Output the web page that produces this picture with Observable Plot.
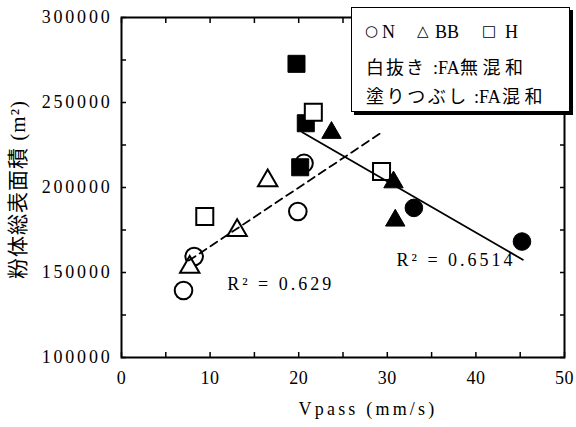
<!DOCTYPE html>
<html><head><meta charset="utf-8">
<script src="https://cdn.jsdelivr.net/npm/d3@7"></script>
<script src="https://cdn.jsdelivr.net/npm/@observablehq/plot@0.6"></script>
<style>
body{margin:0;background:#fff;}
#wrap{position:relative;width:576px;height:427px;overflow:hidden;}
#legend{position:absolute;left:351px;top:7px;width:217px;height:103px;border:1px solid #000;box-shadow:3px 3px 0 #000;background:#fff;font-family:"Liberation Serif","Noto Sans CJK JP",serif;color:#000;}
#legend span{position:absolute;white-space:nowrap;line-height:1;}
</style></head>
<body><div id="wrap"><div id="chart"></div><div id="legend"></div></div>
<script>
// ---- data (Vpass mm/s, 粉体総表面積 m²) ----
// open markers: FA無混和
const nOpenV = [7.0, 8.2, 19.9, 20.6];
const nOpenS = [139400, 159400, 185900, 214200];
const bbOpenV = [7.7, 13.05, 16.5];
const bbOpenS = [153100, 174700, 204000];
const hOpenV = [9.4, 21.65, 29.35];
const hOpenS = [183000, 244300, 209400];
// filled markers: FA混和
const nFillV = [33.0, 45.2];
const nFillS = [188000, 168200];
const bbFillV = [23.7, 30.7, 30.9];
const bbFillS = [232200, 203100, 180600];
const hFillV = [19.75, 20.8, 20.17];
const hFillS = [272750, 237800, 211900];
// trend lines (end points)
const dashV = [7.6, 29.4];
const dashS = [157000, 232500];
const solidV = [20.4, 45.3];
const solidS = [232500, 157500];
// annotations
const r2Text = ["R² = 0.629", "R² = 0.6514"];
const r2V = [11.93, 31.04];
const r2S = [142900, 157060];
// ticks
const xTicks = [0, 10, 20, 30, 40, 50];
const xMinor = [0, 5, 10, 15, 20, 25, 30, 35, 40, 45, 50];
const yTicks = [100000, 150000, 200000, 250000, 300000];
const yMinor = [100000, 125000, 150000, 175000, 200000, 225000, 250000, 275000, 300000];
const xTitle = "Vpass (mm/s)";
const yTitle = "粉体総表面積 (m²)";

const pts = (v, s) => v.map((x, i) => ({v: x, s: s[i]}));
const open = {fill: "white", stroke: "black", strokeWidth: 2};
const solid = {fill: "black", stroke: "black", strokeWidth: 1};
const rC = 8.8, rS = 9.6, rT = 7.2;

const chart = Plot.plot({
  width: 576, height: 427,
  marginLeft: 121, marginRight: 12, marginTop: 17, marginBottom: 70,
  style: {fontFamily: "'Liberation Serif','Noto Sans CJK JP',serif", fontSize: "18px", color: "black", background: "white"},
  x: {domain: [0, 50], label: null},
  y: {domain: [100000, 300000], label: null},
  marks: [
    Plot.frame({stroke: "black", strokeWidth: 2}),
    Plot.axisX(xMinor, {anchor: "bottom", tickSize: -5, text: null, strokeWidth: 1.5, label: null}),
    Plot.axisX(xMinor, {anchor: "top", tickSize: -5, text: null, strokeWidth: 1.5, label: null}),
    Plot.axisY(yMinor, {anchor: "left", tickSize: -5, text: null, strokeWidth: 1.5, label: null}),
    Plot.axisY(yMinor, {anchor: "right", tickSize: -5, text: null, strokeWidth: 1.5, label: null}),
    Plot.axisX(xTicks, {anchor: "bottom", tickSize: 0, tickPadding: 14, label: null, fontSize: 18}),
    Plot.axisY(yTicks, {anchor: "left", tickSize: 0, tickPadding: 9, label: null, fontSize: 18, tickFormat: d => String(d)}),
    Plot.dot(pts(nOpenV, nOpenS), {x: "v", y: "s", symbol: "circle", r: rC, ...open}),
    Plot.dot(pts(nFillV, nFillS), {x: "v", y: "s", symbol: "circle", r: rC, ...solid}),
    Plot.dot(pts(hFillV, hFillS), {x: "v", y: "s", symbol: "square", r: rS, ...solid}),
    Plot.dot(pts(hOpenV, hOpenS), {x: "v", y: "s", symbol: "square", r: rS, ...open}),
    Plot.dot(pts(bbOpenV, bbOpenS), {x: "v", y: "s", symbol: "triangle", r: rT, ...open}),
    Plot.dot(pts(bbFillV, bbFillS), {x: "v", y: "s", symbol: "triangle", r: rT, ...solid}),
    Plot.line(pts(dashV, dashS), {x: "v", y: "s", stroke: "black", strokeWidth: 1.8, strokeDasharray: "8,5"}),
    Plot.line(pts(solidV, solidS), {x: "v", y: "s", stroke: "black", strokeWidth: 1.8}),
    Plot.text(r2Text.map((t, i) => ({t, v: r2V[i], s: r2S[i]})), {x: "v", y: "s", text: "t", textAnchor: "start", fontSize: 18, fill: "black"}),
    Plot.text([xTitle], {frameAnchor: "bottom", text: d => d, textAnchor: "middle", dx: 25, dy: 57, fontSize: 18, fill: "black"}),
    Plot.text([yTitle], {frameAnchor: "left", text: d => d, textAnchor: "middle", lineAnchor: "middle", rotate: -90, dx: -103, dy: 2, fontSize: 21, fill: "black"})
  ]
});
document.getElementById("chart").append(chart);
const svg = d3.select(chart);
const spacing = new Map([
  [xTitle, 3.2], [yTitle, 1], [r2Text[0], 3], [r2Text[1], 3]
]);
svg.selectAll("text").each(function () {
  const t = this.textContent;
  if (spacing.has(t)) this.setAttribute("letter-spacing", spacing.get(t));
  else if (/^\d{6}$/.test(t)) this.setAttribute("letter-spacing", 2.8);
  else if (/^\d{1,2}$/.test(t)) this.setAttribute("letter-spacing", 0.5);
});

// legend
const sym = "'DejaVu Sans',sans-serif";
const legendItems = [
  {t: "○", x: 13, y: 16, fs: 15, ls: 0, f: sym},
  {t: "N", x: 30, y: 15, fs: 18, ls: 0},
  {t: "△", x: 65, y: 16, fs: 15, ls: 0, f: sym},
  {t: "BB", x: 83, y: 15, fs: 18, ls: 0},
  {t: "□", x: 130, y: 16, fs: 15, ls: 0, f: sym},
  {t: "H", x: 153, y: 15, fs: 18, ls: 0},
  {t: "白抜き", x: 14, y: 51, fs: 18, ls: 2},
  {t: ":FA", x: 81, y: 51, fs: 18, ls: 0},
  {t: "無混和", x: 108, y: 51, fs: 18, ls: 4.5},
  {t: "塗りつぶし", x: 14, y: 80, fs: 18, ls: 2.5},
  {t: ":FA", x: 122, y: 80, fs: 18, ls: 0},
  {t: "混和", x: 150, y: 80, fs: 18, ls: 4.5}
];
const lg = d3.select("#legend");
legendItems.forEach(d => {
  const s = lg.append("span").text(d.t)
    .style("left", d.x + "px").style("top", d.y + "px")
    .style("font-size", d.fs + "px").style("letter-spacing", d.ls + "px");
  if (d.f) s.style("font-family", d.f);
});
</script>
</body></html>
